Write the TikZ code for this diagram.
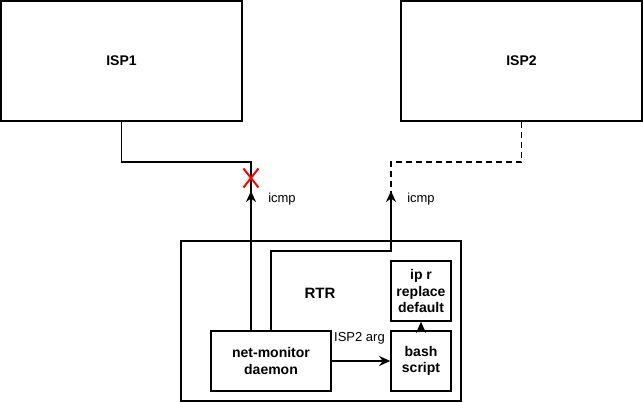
\documentclass[tikz,border=0pt]{standalone}
\usepackage{fontspec}
\setmainfont{Liberation Sans}
\usetikzlibrary{arrows.meta,shapes.misc}
\begin{document}
\begin{tikzpicture}[x=1pt,y=-1pt,
  box/.style={draw=black,line width=1.7pt,fill=white,inner sep=0pt,font=\bfseries\fontsize{14}{16.5}\selectfont,align=center},
  conn/.style={line width=1.6pt},
  arr/.style={line width=1.8pt,-{Stealth[length=11pt,width=10pt,inset=3.5pt]}},
  lbl/.style={font=\fontsize{13}{15}\selectfont,inner sep=0pt}]
\useasboundingbox (0,0) rectangle (643,403);
\node[box,minimum width=241pt,minimum height=120pt] (isp1) at (121.5,61) {ISP1};
\node[box,minimum width=241pt,minimum height=120pt] (isp2) at (521.5,61) {ISP2};
\node[box,minimum width=280pt,minimum height=160pt] (rtr) at (321,321) {};
\node[font=\bfseries\fontsize{15}{17}\selectfont,inner sep=0pt] (rtrlbl) at (320,293) {RTR};
\node[box,minimum width=120pt,minimum height=60pt] (net) at (271,361) {net-monitor\\daemon};
\node[box,minimum width=60pt,minimum height=60pt] (bash) at (421,361) {bash\\script};
\node[box,minimum width=60pt,minimum height=60pt] (ipr) at (421,291) {ip r\\replace\\default};
\coordinate (c1) at (251,241);
\coordinate (c2) at (391,241);
\coordinate (tip1) at (251,191);
\coordinate (tip2) at (391,191);
\coordinate (bend2) at (391,251);
\draw[conn] (isp1.south) -- ++(0,40) -| (c1);
\draw[conn,dash pattern=on 6pt off 4pt] (isp2.south) -- ++(0,40) -| (c2);
\draw[arr] (net.north -| tip1) -- (tip1);
\draw[arr] (net.north) |- (bend2) -- (tip2);
\draw[arr] (net.east) -- (bash.west);
\draw[arr] (bash.north) -- (ipr.south);
\node[draw=red,cross out,line width=2pt,minimum width=13pt,minimum height=17pt,inner sep=0pt] (xmark) at (251,178) {};
\node[lbl] (icmp1) at (282,199) {icmp};
\node[lbl] (icmp2) at (421,199) {icmp};
\node[lbl] (arglbl) at (359.5,338) {ISP2 arg};
\end{tikzpicture}
\end{document}
